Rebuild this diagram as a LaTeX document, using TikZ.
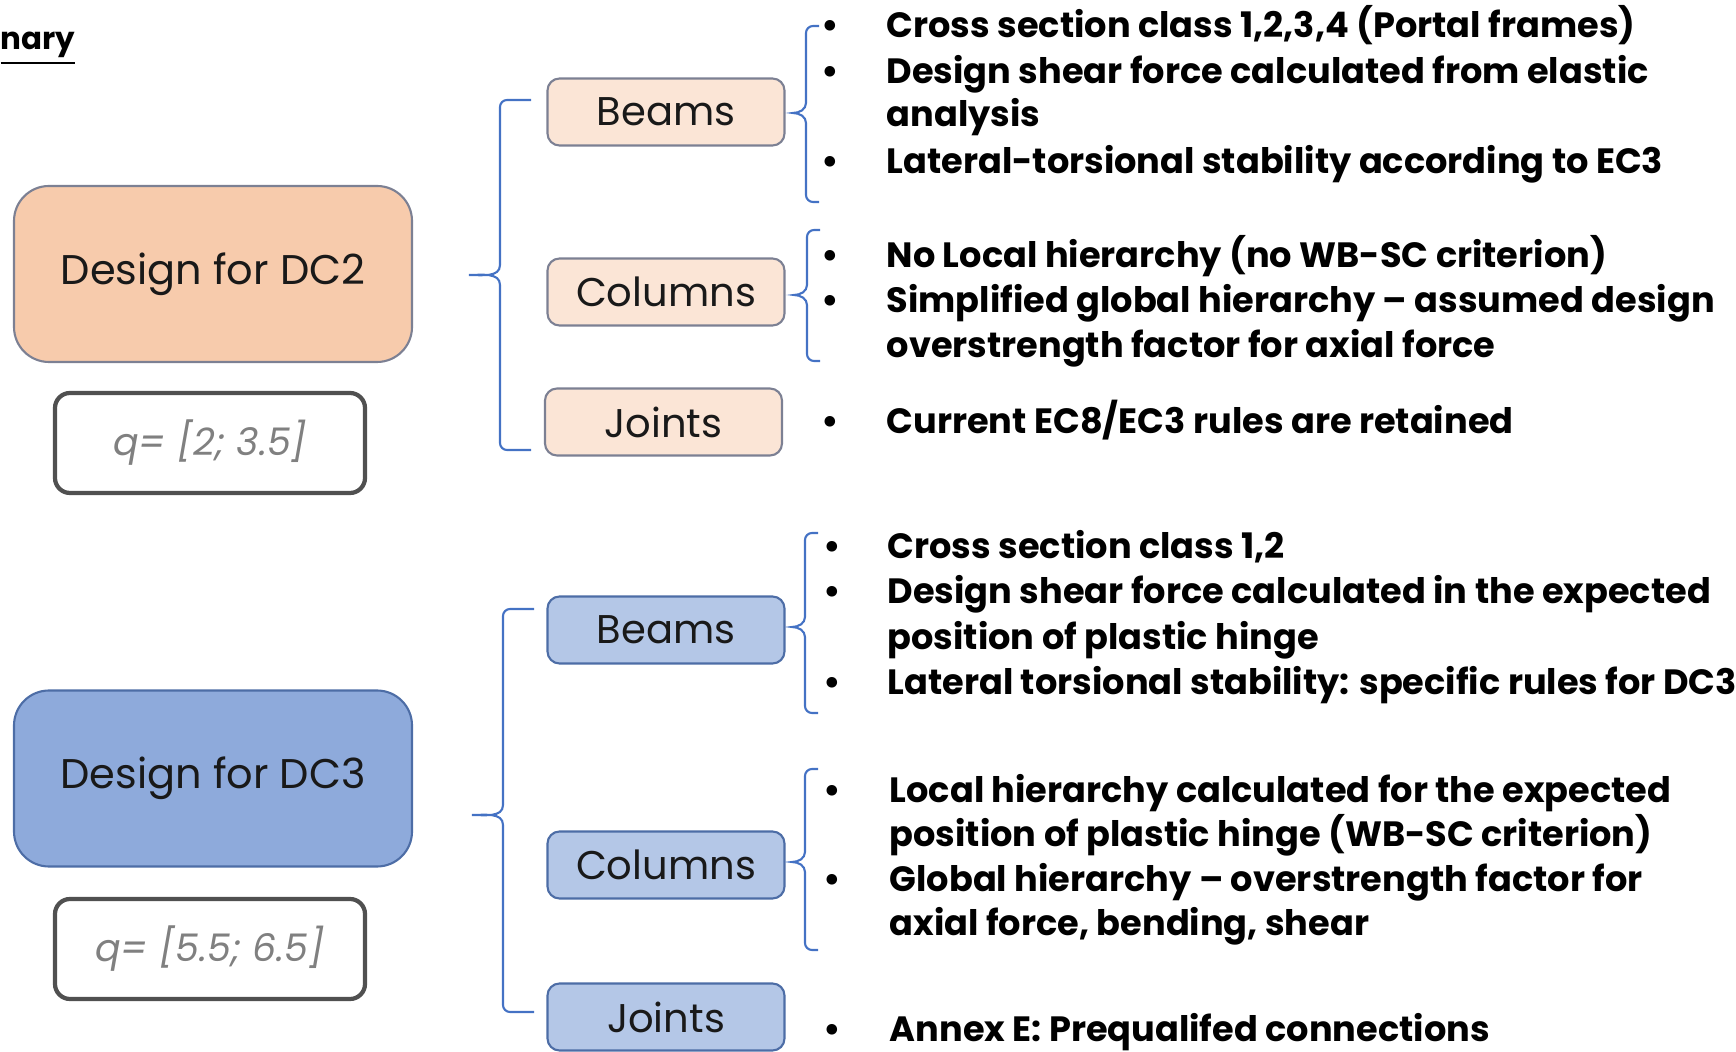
\documentclass[tikz,border=0pt]{standalone}
\usepackage{fontspec}
\setmainfont{Poppins}

\definecolor{orangebig}{HTML}{F7CBAC}
\definecolor{orangesub}{HTML}{FBE5D6}
\definecolor{orangeline}{HTML}{7C8093}
\definecolor{bluebig}{HTML}{8EAADB}
\definecolor{bluesub}{HTML}{B4C7E7}
\definecolor{blueline}{HTML}{4D6DA6}
\definecolor{braceblue}{HTML}{4472C4}
\definecolor{qline}{HTML}{505050}
\definecolor{qtext}{HTML}{808080}

% curly bracket: stem x, half width, top y, tip y, bottom y
\newcommand{\sidebrace}[5]{%
  \draw[brace] ({#1+#2},#3) -- ({#1+0.07},#3) to[out=180,in=90] (#1,{#3-0.07})
    -- (#1,{#4+0.1}) to[out=-90,in=0] ({#1-#2},#4) to[out=0,in=90] (#1,{#4-0.1})
    -- (#1,{#5+0.07}) to[out=-90,in=180] ({#1+0.07},#5) -- ({#1+#2},#5);}

\begin{document}
\begin{tikzpicture}[
    bigbox/.style={draw, rounded corners=0.35cm, minimum width=3.98cm, minimum height=1.76cm,
      line width=0.6pt, font=\fontsize{11.8}{13}\selectfont, text=black!90},
    subbox/.style={draw, rounded corners=0.12cm, minimum width=2.37cm, minimum height=0.67cm,
      line width=0.6pt, font=\fontsize{11.4}{13}\selectfont, text=black!90},
    qbox/.style={draw=qline, rounded corners=0.15cm, line width=1.2pt, minimum width=3.1cm,
      minimum height=1.0cm, font=\fontsize{10.8}{13}\selectfont\itshape, text=qtext},
    brace/.style={draw=braceblue, line width=0.6pt},
    item/.style={anchor=base west, inner sep=0pt, font=\fontsize{10}{12}\selectfont\bfseries},
    bullet/.style={anchor=base, inner sep=0pt, font=\fontsize{10}{12}\selectfont\bfseries}
  ]
  \useasboundingbox (0,0) rectangle (17.36,-10.52);
  \clip (0,0) rectangle (17.36,-10.52);

  % Title
  \node (title) [anchor=base west, inner sep=0pt, font=\fontsize{8.8}{11}\selectfont\bfseries]
    at (0,-0.50) {\underline{nary}};

  % DC2 nodes
  \node (dc2) [bigbox, fill=orangebig, draw=orangeline] at (2.13,-2.74) {Design for DC2};
  \node (q2) [qbox] at (2.10,-4.43) {q= [2; 3.5]};
  \node (beams2) [subbox, fill=orangesub, draw=orangeline] at (6.66,-1.12) {Beams};
  \node (columns2) [subbox, fill=orangesub, draw=orangeline] at (6.66,-2.92) {Columns};
  \node (joints2) [subbox, fill=orangesub, draw=orangeline] at (6.635,-4.22) {Joints};

  % DC3 nodes
  \node (dc3) [bigbox, fill=bluebig, draw=blueline] at (2.13,-7.785) {Design for DC3};
  \node (q3) [qbox] at (2.10,-9.49) {q= [5.5; 6.5]};
  \node (beams3) [subbox, fill=bluesub, draw=blueline] at (6.66,-6.30) {Beams};
  \node (columns3) [subbox, fill=bluesub, draw=blueline] at (6.66,-8.65) {Columns};
  \node (joints3) [subbox, fill=bluesub, draw=blueline] at (6.66,-10.17) {Joints};

  % Brackets
  \sidebrace{5.00}{0.31}{-1.00}{-2.75}{-4.50}
  \sidebrace{8.06}{0.13}{-0.26}{-1.13}{-2.02}
  \sidebrace{8.07}{0.13}{-2.30}{-2.95}{-3.61}
  \sidebrace{5.03}{0.31}{-6.09}{-8.15}{-10.12}
  \sidebrace{8.05}{0.13}{-5.33}{-6.27}{-7.13}
  \sidebrace{8.05}{0.13}{-7.69}{-8.62}{-9.50}

  % DC2 rules
  \node (b21) [bullet] at (8.30,-0.38) {\textbullet};
  \node (t21) [item] at (8.86,-0.38) {Cross section class 1,2,3,4 (Portal frames)};
  \node (b22) [bullet] at (8.30,-0.84) {\textbullet};
  \node (t22) [item] at (8.86,-0.84) {Design shear force calculated from elastic};
  \node (t22b) [item] at (8.86,-1.27) {analysis};
  \node (b23) [bullet] at (8.30,-1.74) {\textbullet};
  \node (t23) [item] at (8.86,-1.74) {Lateral-torsional stability according to EC3};
  \node (b24) [bullet] at (8.30,-2.68) {\textbullet};
  \node (t24) [item] at (8.86,-2.68) {No Local hierarchy (no WB-SC criterion)};
  \node (b25) [bullet] at (8.30,-3.13) {\textbullet};
  \node (t25) [item] at (8.86,-3.13) {Simplified global hierarchy -- assumed design};
  \node (t25b) [item] at (8.86,-3.58) {overstrength factor for axial force};
  \node (b26) [bullet] at (8.30,-4.34) {\textbullet};
  \node (t26) [item] at (8.86,-4.34) {Current EC8/EC3 rules are retained};

  % DC3 rules
  \node (b31) [bullet] at (8.32,-5.59) {\textbullet};
  \node (t31) [item] at (8.87,-5.59) {Cross section class 1,2};
  \node (b32) [bullet] at (8.32,-6.04) {\textbullet};
  \node (t32) [item] at (8.87,-6.04) {Design shear force calculated in the expected};
  \node (t32b) [item] at (8.87,-6.50) {position of plastic hinge};
  \node (b33) [bullet] at (8.32,-6.95) {\textbullet};
  \node (t33) [item] at (8.87,-6.95) {Lateral torsional stability: specific rules for DC3};
  \node (b34) [bullet] at (8.32,-8.02) {\textbullet};
  \node (t34) [item] at (8.89,-8.02) {Local hierarchy calculated for the expected};
  \node (t34b) [item] at (8.89,-8.47) {position of plastic hinge (WB-SC criterion)};
  \node (b35) [bullet] at (8.32,-8.92) {\textbullet};
  \node (t35) [item] at (8.89,-8.92) {Global hierarchy -- overstrength factor for};
  \node (t35b) [item] at (8.89,-9.35) {axial force, bending, shear};
  \node (b36) [bullet] at (8.32,-10.41) {\textbullet};
  \node (t36) [item] at (8.89,-10.41) {Annex E: Prequalifed connections};
\end{tikzpicture}
\end{document}
